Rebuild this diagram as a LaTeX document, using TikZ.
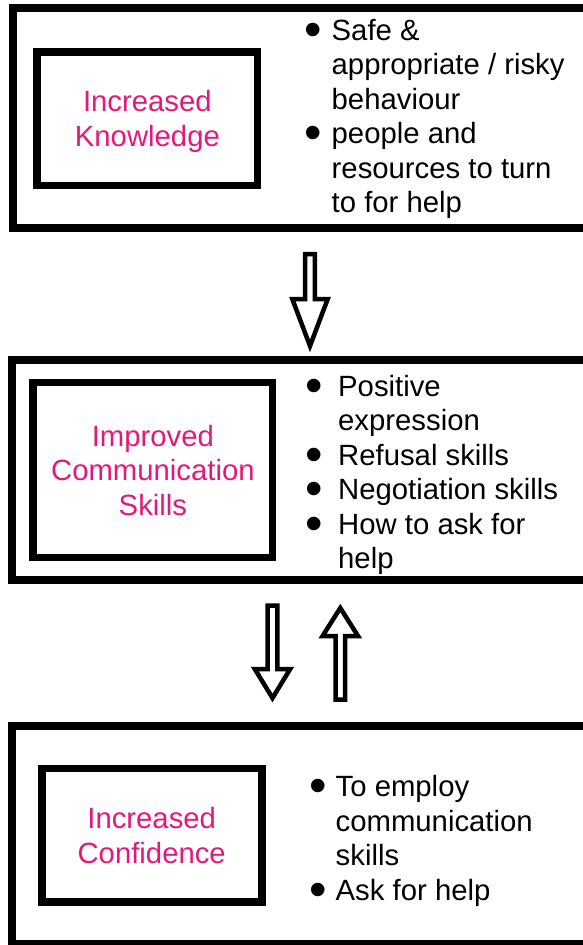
\documentclass[tikz,border=0pt]{standalone}
\usepackage{fontspec}
\setmainfont{Liberation Sans}
\usepackage{graphicx}
\usepackage{xcolor}
\usetikzlibrary{calc}

\definecolor{hotpink}{RGB}{228,24,124}

\newcommand{\itemdot}{\smash{\raisebox{-6pt}{\scalebox{1.7}{\textbullet}}}}
% hollow block arrow: [head length]{tail}{tip}
\newcommand{\hollowarrow}[3][30]{%
	\path (#3) coordinate (tipA) ($(#3)!#1pt!(#2)$) coordinate (baseA);
	\draw[blockarrow] ($(#2)!4.8pt!90:(tipA)$) -- ($(baseA)!4.8pt!90:(tipA)$)
		-- ($(baseA)!17.7pt!90:(tipA)$) -- (tipA)
		-- ($(baseA)!17.7pt!-90:(tipA)$) -- ($(baseA)!4.8pt!-90:(tipA)$)
		-- ($(#2)!4.8pt!-90:(tipA)$) -- cycle;
}

\tikzset{
	frame/.style={draw, line width=7.7pt, inner sep=0pt, minimum width=607.5pt},
	keybox/.style={draw, line width=7.7pt, inner sep=0pt, align=center, text=hotpink, text depth=0pt},
	points/.style={anchor=base west, inner sep=0pt},
	blockarrow/.style={draw, line width=4.5pt, fill=white, line join=miter},
}

\begin{document}
\begin{tikzpicture}[x=1pt, y=-1pt, font=\fontsize{29.3}{34.5}\selectfont]
	\useasboundingbox (0,0) rectangle (583,945);
	\clip (0,0) rectangle (583,945);
	
	% outer frames
	\node[frame, minimum height=220pt] (know) at (316.5,118.3) {};
	\node[frame, minimum height=220pt] (comm) at (316,470) {};
	\node[frame, minimum height=218pt] (conf) at (316,835) {};
	
	% inner boxes
	\node[keybox, minimum width=220.3pt, minimum height=133.8pt] (kbox) at (147.4,118.6) {Increased\\Knowledge};
	\node[keybox, minimum width=239.2pt, minimum height=175pt] (cbox) at (152.9,470) {Improved\\Communication\\Skills};
	\node[keybox, minimum width=220pt, minimum height=133.7pt] (fbox) at (151.7,835.2) {Increased\\Confidence};
	
	% bullet lists
	\node[points] (klist) at (304,40) {\begin{tabular}[t]{@{}p{27.5pt}@{}l@{}}
		\itemdot & Safe \& \\
		& appropriate / risky \\
		& behaviour \\
		\itemdot & people and \\
		& resources to turn \\
		& to for help
	\end{tabular}};
	\node[points] (clist) at (305,396) {\begin{tabular}[t]{@{}p{33pt}@{}l@{}}
		\itemdot & Positive \\
		& expression \\
		\itemdot & Refusal skills \\
		\itemdot & Negotiation skills \\
		\itemdot & How to ask for \\
		& help
	\end{tabular}};
	\node[points] (flist) at (309,796.5) {\begin{tabular}[t]{@{}p{26.5pt}@{}l@{}}
		\itemdot & To employ \\
		& communication \\
		& skills \\
		\itemdot & Ask for help
	\end{tabular}};
	
	% arrows
	\coordinate (k-out) at (310,254);
	\coordinate (c-in) at (310,346);
	\coordinate (c-out) at (272.5,605.5);
	\coordinate (f-in) at (272.5,698);
	\coordinate (f-out) at (340.3,699.5);
	\coordinate (c-back) at (340.3,608);
	\hollowarrow[47]{k-out}{c-in}
	\hollowarrow[29]{c-out}{f-in}
	\hollowarrow[28]{f-out}{c-back}
\end{tikzpicture}
\end{document}
